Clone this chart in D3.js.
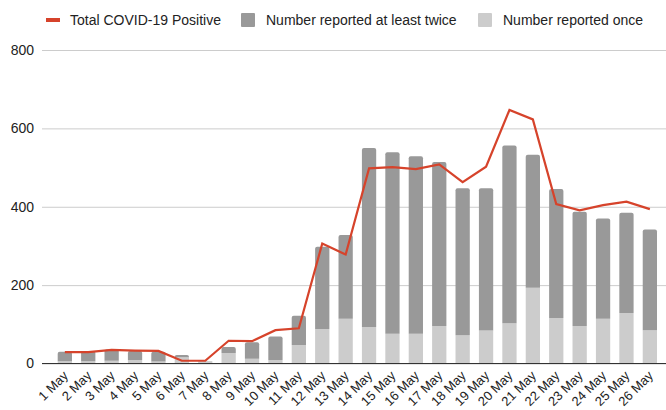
<!DOCTYPE html>
<html>
<head>
<meta charset="utf-8">
<script src="https://cdn.jsdelivr.net/npm/d3@7"></script>
<style>
  html, body { margin: 0; padding: 0; background: #fff; }
  svg { display: block; font-family: "Liberation Sans", Arial, Helvetica, sans-serif; }
</style>
</head>
<body>
<svg id="chart" width="666" height="410"></svg>
<script>
const categories = ["1 May","2 May","3 May","4 May","5 May","6 May","7 May","8 May","9 May","10 May","11 May","12 May","13 May","14 May","15 May","16 May","17 May","18 May","19 May","20 May","21 May","22 May","23 May","24 May","25 May","26 May"];
const reportedOnce = [6,6,7,9,5,16,5,27,12,9,47,88,114,93,76,76,96,72,84,103,193,116,96,114,129,85];
const reportedTwice = [24,26,29,23,25,6,1,15,42,60,75,210,214,457,463,453,418,375,363,453,340,329,291,256,256,257];
const totalPositive = [29,29,35,33,32,7,7,58,57,85,90,306,278,498,501,496,508,463,502,647,623,407,391,404,413,394];
const yTicks = [0,200,400,600,800];
const seriesNames = ["Total COVID-19 Positive","Number reported at least twice","Number reported once"];

const colors = { line: "#d6432b", twice: "#999999", once: "#cccccc" };

const svg = d3.select("#chart");
const plot = { left: 42, right: 666, top: 50, bottom: 363.5 };

const x = d3.scaleBand().domain(categories).range([46, 46 + 26 * 23.95]).paddingInner(0.39).paddingOuter(0.5);
const y = d3.scaleLinear().domain([0, 800]).range([plot.bottom, plot.top]);

// gridlines
const yAxis = d3.axisLeft(y).tickValues(yTicks).tickSize(-(plot.right - plot.left)).tickPadding(8).tickFormat(d3.format("d"));
const gy = svg.append("g").attr("transform", `translate(${plot.left},0)`).call(yAxis);
gy.select(".domain").remove();
gy.selectAll(".tick line").attr("stroke", "#cccccc").attr("stroke-width", 1);
gy.selectAll(".tick text").attr("font-size", 14).attr("fill", "#222").attr("x", -8)
  .attr("font-family", '"Liberation Sans", Arial, sans-serif');

// stacked data
const rows = categories.map((c, i) => ({ cat: c, once: reportedOnce[i], twice: reportedTwice[i] }));
const stack = d3.stack().keys(["once", "twice"]);
const stacked = stack(rows);

function topRounded(x0, y0, w, h, r) {
  if (h <= 0) return "";
  r = Math.min(r, h, w / 2);
  return `M${x0},${y0 + h}V${y0 + r}Q${x0},${y0} ${x0 + r},${y0}H${x0 + w - r}Q${x0 + w},${y0} ${x0 + w},${y0 + r}V${y0 + h}Z`;
}

const bw = x.bandwidth();
svg.append("g").selectAll("path").data(stacked[0]).join("path")
  .attr("fill", colors.once)
  .attr("d", (d, i) => {
    const top = y(d[1]), bot = y(d[0]);
    const r = rows[i].twice > 0 ? 0 : 2;
    return topRounded(x(d.data.cat), top, bw, bot - top, r);
  });
svg.append("g").selectAll("path").data(stacked[1]).join("path")
  .attr("fill", colors.twice)
  .attr("d", d => {
    const top = y(d[1]), bot = y(d[0]);
    return topRounded(x(d.data.cat), top, bw, bot - top, 2);
  });

// baseline
svg.append("line").attr("x1", plot.left).attr("x2", plot.right)
  .attr("y1", y(0)).attr("y2", y(0)).attr("stroke", "#333").attr("stroke-width", 1.2);

// line
const line = d3.line().x((d, i) => x(categories[i]) + bw / 2).y(d => y(d));
svg.append("path").datum(totalPositive).attr("d", line)
  .attr("fill", "none").attr("stroke", colors.line).attr("stroke-width", 2.2).attr("stroke-linejoin", "miter");

// x axis labels
const xAxis = d3.axisBottom(x).tickSize(0).tickPadding(0);
const gx = svg.append("g").attr("transform", `translate(0,${y(0)})`).call(xAxis);
gx.select(".domain").remove();
gx.selectAll(".tick text")
  .attr("font-size", 13).attr("fill", "#222")
  .attr("font-family", '"Liberation Sans", Arial, sans-serif')
  .attr("text-anchor", "end")
  .attr("dy", null)
  .attr("transform", "translate(4,13) rotate(-45)")
  .attr("x", 0).attr("y", 0);

// legend
const legend = svg.append("g").attr("font-size", 14).attr("fill", "#222");
const legendItems = [
  { name: seriesNames[0], type: "line", color: colors.line, x: 46 },
  { name: seriesNames[1], type: "box", color: colors.twice, x: 241 },
  { name: seriesNames[2], type: "box", color: colors.once, x: 478 }
];
const ly = 20;
legendItems.forEach(it => {
  const g = legend.append("g");
  if (it.type === "line") {
    g.append("rect").attr("x", it.x).attr("y", ly - 2).attr("width", 14).attr("height", 4).attr("fill", it.color);
    g.append("text").attr("x", it.x + 24).attr("y", ly + 5).text(it.name);
  } else {
    g.append("rect").attr("x", it.x).attr("y", ly - 7).attr("width", 14).attr("height", 14).attr("rx", 1).attr("fill", it.color);
    g.append("text").attr("x", it.x + 25).attr("y", ly + 5).text(it.name);
  }
});
</script>
</body>
</html>
